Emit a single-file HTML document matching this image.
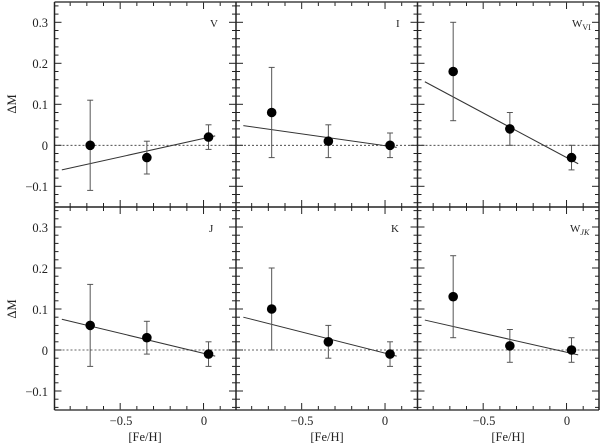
<!DOCTYPE html>
<html><head><meta charset="utf-8"><style>
body{margin:0;background:#fff}
svg{display:block}
text{font-family:"Liberation Serif",serif;fill:#222}
</style></head><body>
<svg id="s" width="600" height="446" viewBox="0 0 600 446" xmlns="http://www.w3.org/2000/svg">
<g id="g"></g>
<g font-size="12.5" text-anchor="end">
<text x="48" y="27">0.3</text><text x="48" y="68">0.2</text><text x="48" y="109">0.1</text><text x="48" y="150">0</text><text x="48" y="191">−0.1</text>
<text x="48" y="232">0.3</text><text x="48" y="273">0.2</text><text x="48" y="314">0.1</text><text x="48" y="355">0</text><text x="48" y="396">−0.1</text>
</g>
<text x="16" y="104" font-size="12.5" text-anchor="middle" transform="rotate(-90 16 104)">ΔM</text>
<text x="16" y="309" font-size="12.5" text-anchor="middle" transform="rotate(-90 16 309)">ΔM</text>
<g font-size="12.5" text-anchor="middle">
<text x="121" y="425">−0.5</text><text x="204" y="425">0</text>
<text x="302" y="425">−0.5</text><text x="385" y="425">0</text>
<text x="484" y="425">−0.5</text><text x="567" y="425">0</text>
<text x="145" y="441">[Fe/H]</text><text x="327" y="441">[Fe/H]</text><text x="508" y="441">[Fe/H]</text>
</g>
<g font-size="11">
<text x="210" y="27">V</text>
<text x="396" y="27">I</text>
<text x="572" y="27">W<tspan font-size="8" dy="3">VI</tspan></text>
<text x="209" y="232">J</text>
<text x="391" y="232">K</text>
<text x="570" y="232">W<tspan font-size="8" dy="3" font-style="italic">JK</tspan></text>
</g>
</svg>
<script>
var g=document.getElementById('g'),ns="http://www.w3.org/2000/svg";
function L(x1,y1,x2,y2,w,c,d){var e=document.createElementNS(ns,'line');e.setAttribute('x1',x1);e.setAttribute('y1',y1);e.setAttribute('x2',x2);e.setAttribute('y2',y2);e.setAttribute('stroke',c||'#222');e.setAttribute('stroke-width',w||1);if(d)e.setAttribute('stroke-dasharray',d);g.appendChild(e);}
function C(x,y){var e=document.createElementNS(ns,'circle');e.setAttribute('cx',x);e.setAttribute('cy',y);e.setAttribute('r',4.8);e.setAttribute('fill','#000');g.appendChild(e);}
var X0=[54.5,236,417.5],W=181.5,rows=[{t:2,z:145.3,b:207},{t:207,z:350,b:410}],S=410;
function px(p,v){return X0[p]+(v+0.894)*166.7;}
var data=[
[[[-0.68,0,0.11],[-0.34,-0.03,0.04],[0.03,0.02,0.03]],[-0.85,-0.06,0.07,0.023]],
[[[-0.68,0.08,0.11],[-0.34,0.01,0.04],[0.03,0,0.03]],[-0.85,0.048,0.07,-0.005]],
[[[-0.68,0.18,0.12],[-0.34,0.04,0.04],[0.03,-0.03,0.03]],[-0.85,0.155,0.07,-0.045]],
[[[-0.68,0.06,0.1],[-0.34,0.03,0.04],[0.03,-0.01,0.03]],[-0.85,0.075,0.07,-0.015]],
[[[-0.68,0.10,0.1],[-0.34,0.02,0.04],[0.03,-0.01,0.03]],[-0.85,0.08,0.07,-0.015]],
[[[-0.68,0.13,0.1],[-0.34,0.01,0.04],[0.03,0,0.03]],[-0.85,0.073,0.07,-0.012]]];
for(var r=0;r<2;r++)for(var p=0;p<3;p++){
 var R=rows[r],x0=X0[p],x1=x0+W;
 function py(v){return R.z-v*410;}
 // ticks y
 for(var k=-7;k<=17;k++){var v=k*0.02,y=py(v);if(y<R.t+0.5||y>R.b-0.5)continue;var len=(k%5==0)?7:4;L(x0,y,x0+len,y,1);L(x1-len,y,x1,y,1);}
 for(var k=-8;k<=1;k++){var v=k*0.1,x=px(p,v);if(x<x0+1||x>x1-1)continue;var len=(k%5==0)?7:4;L(x,R.b,x,R.b-len,1);L(x,R.t,x,R.t+len,1);}
 L(x0,py(0),x1,py(0),0.8,'#333','2,2');
 var d=data[r*3+p];
 L(px(p,d[1][0]),py(d[1][1]),px(p,d[1][2]),py(d[1][3]),1,'#333');
 d[0].forEach(function(q){var x=px(p,q[0]);L(x,py(q[1]+q[2]),x,py(q[1]-q[2]),1,'#555');L(x-3,py(q[1]+q[2]),x+3,py(q[1]+q[2]),1,'#555');L(x-3,py(q[1]-q[2]),x+3,py(q[1]-q[2]),1,'#555');C(x,py(q[1]));});
}
// frame
L(54.5,2,599,2,1.5,'#444');L(54.5,207,599,207,1.5,'#222');L(54.5,410,599,410,1.5,'#444');
[54.5,236,417.5,599].forEach(function(x){L(x,2,x,410,1.5,'#222');});
</script>
</body></html>
